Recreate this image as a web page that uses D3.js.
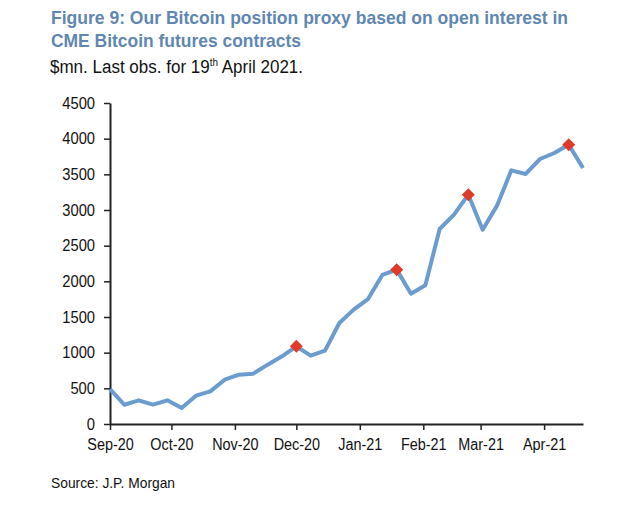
<!DOCTYPE html>
<html><head><meta charset="utf-8">
<script src="https://cdn.jsdelivr.net/npm/d3@7"></script>
<style>
html,body{margin:0;padding:0;background:#fff;}
svg{display:block;}
text{font-family:'Liberation Sans',Arial,sans-serif;}
</style></head>
<body><svg id="c" width="630" height="517"></svg>
<script>
const dates = ["2020-09-01","2020-09-08","2020-09-15","2020-09-22","2020-09-29","2020-10-06","2020-10-13","2020-10-20","2020-10-27","2020-11-03","2020-11-10","2020-11-17","2020-11-24","2020-12-01","2020-12-08","2020-12-15","2020-12-22","2020-12-29","2021-01-05","2021-01-12","2021-01-19","2021-01-26","2021-02-02","2021-02-09","2021-02-16","2021-02-23","2021-03-02","2021-03-09","2021-03-16","2021-03-23","2021-03-30","2021-04-06","2021-04-13","2021-04-20"];
const values = [490,270,332,271,332,224,397,458,621,692,706,832,949,1089,958,1028,1416,1603,1752,2089,2164,1827,1944,2734,2935,3215,2724,3061,3556,3505,3715,3799,3916,3589];
const markerIdx = [13,20,25,32];
const yTicks = [0,500,1000,1500,2000,2500,3000,3500,4000,4500];
const xTickDates = ["2020-09-01","2020-10-01","2020-11-01","2020-12-01","2021-01-01","2021-02-01","2021-03-01","2021-04-01"];
const xTickLabels = ["Sep-20","Oct-20","Nov-20","Dec-20","Jan-21","Feb-21","Mar-21","Apr-21"];

const parse = d3.timeParse("%Y-%m-%d");
const data = dates.map((d,i)=>({date:parse(d), v:values[i]}));
const svg = d3.select("#c");
const L=110, R=583, T=103, B=424;
const x = d3.scaleTime().domain([parse("2020-09-01"), parse("2021-04-20")]).range([L,R]);
const y = d3.scaleLinear().domain([0,4500]).range([B,T]);

function condense(sel, f){
  sel.each(function(){
    const len = this.getComputedTextLength();
    d3.select(this).attr("textLength", len*f).attr("lengthAdjust","spacingAndGlyphs");
  });
}

// title
svg.append("text").attr("x",51).attr("y",24).attr("fill","#5f87b2").attr("font-weight","bold").attr("font-size",19)
  .attr("textLength",517).attr("lengthAdjust","spacingAndGlyphs")
  .text("Figure 9: Our Bitcoin position proxy based on open interest in");
svg.append("text").attr("x",51).attr("y",47).attr("fill","#5f87b2").attr("font-weight","bold").attr("font-size",19)
  .attr("textLength",250).attr("lengthAdjust","spacingAndGlyphs")
  .text("CME Bitcoin futures contracts");
const sub = svg.append("g").attr("transform","translate(50,73) scale(0.945,1)")
  .append("text").attr("x",0).attr("y",0).attr("fill","#111").attr("font-size",18);
sub.append("tspan").text("$mn. Last obs. for 19");
sub.append("tspan").attr("font-size",10.5).attr("dy",-7).text("th");
sub.append("tspan").attr("dy",7).text(" April 2021.");

// axes
const yAxis = d3.axisLeft(y).tickValues(yTicks).tickFormat(d3.format("d")).tickSize(6).tickPadding(9).tickSizeOuter(0);
const gy = svg.append("g").attr("transform",`translate(${L},0)`).call(yAxis);
const xAxis = d3.axisBottom(x).tickValues(xTickDates.map(parse)).tickFormat((d,i)=>xTickLabels[i]).tickSize(6).tickPadding(9).tickSizeOuter(0);
const gx = svg.append("g").attr("transform",`translate(0,${B})`).call(xAxis);
[gx,gy].forEach(g=>{
  g.select(".domain").attr("stroke","#222").attr("stroke-width",2);
  g.selectAll(".tick line").attr("stroke","#222").attr("stroke-width",1.5);
  g.selectAll(".tick text").attr("fill","#111").attr("font-size",16)
   .style("font-family","'Liberation Sans',Arial,sans-serif");
});
condense(gx.selectAll(".tick text"), 0.9);
condense(gy.selectAll(".tick text"), 0.92);

// line
svg.append("path").datum(data).attr("fill","none").attr("stroke","#6a9ccf").attr("stroke-width",4)
  .attr("stroke-linejoin","round")
  .attr("d",d3.line().x(d=>x(d.date)).y(d=>y(d.v)));

// markers
svg.selectAll(".mk").data(markerIdx.map(i=>data[i])).join("path").attr("class","mk")
  .attr("transform",d=>`translate(${x(d.date)},${y(d.v)})`)
  .attr("d","M0,-6.5L6.5,0L0,6.5L-6.5,0Z").attr("fill","#e03a2a");

const src = svg.append("text").attr("x",51).attr("y",488).attr("fill","#111").attr("font-size",15).text("Source: J.P. Morgan");
src.attr("textLength",124).attr("lengthAdjust","spacingAndGlyphs");
</script></body></html>
